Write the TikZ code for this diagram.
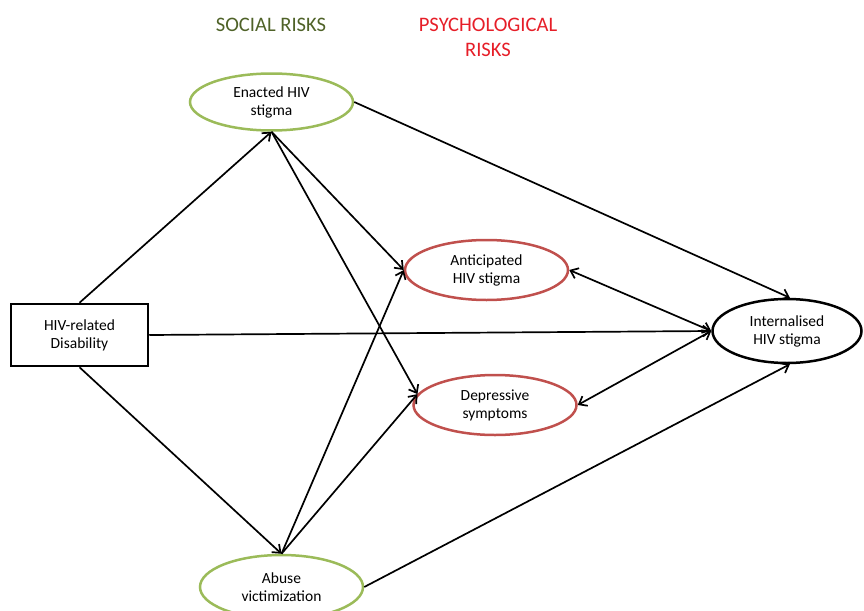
\documentclass[tikz,border=0pt]{standalone}
\usepackage{fontspec}
\setmainfont{Carlito}
\usetikzlibrary{shapes.geometric,arrows.meta}
\definecolor{socgreen}{RGB}{155,187,89}
\definecolor{psyred}{RGB}{192,80,77}
\definecolor{soctitle}{RGB}{79,98,40}
\definecolor{psytitle}{RGB}{230,30,40}
\begin{document}
\begin{tikzpicture}[x=1pt,y=-1pt,
   var/.style={ellipse,draw,line width=2.5pt,minimum width=163pt,minimum height=60pt,
      inner sep=0pt,align=center,font=\fontsize{15.5}{18}\selectfont},
   social/.style={var,draw=socgreen},
   psych/.style={var,draw=psyred},
   path/.style={line width=1.7pt,-{Straight Barb[length=7pt,width=11pt]}},
   both/.style={line width=1.7pt,{Straight Barb[length=7pt,width=11pt]}-{Straight Barb[length=7pt,width=11pt]}},
   title/.style={align=center,font=\fontsize{20.6}{25}\selectfont}]
   \useasboundingbox (0,0) rectangle (864,610);

   % group titles
   \node[title,text=soctitle] (soctitle) at (271,25) {SOCIAL RISKS};
   \node[title,text=psytitle] (psytitle) at (488,37) {PSYCHOLOGICAL\\RISKS};

   % variables
   \node[draw,line width=2.5pt,minimum width=137pt,minimum height=62pt,align=center,
      font=\fontsize{15.5}{18}\selectfont] (disab) at (79.5,335) {HIV-related\\Disability};
   \node[social,minimum height=57pt] (enacted) at (271.5,102) {Enacted HIV\\stigma};
   \node[social,minimum height=64pt] (abuse) at (281.5,587) {Abuse\\victimization};
   \node[psych] (anticip) at (486.5,270) {Anticipated\\HIV stigma};
   \node[psych] (depress) at (495,405) {Depressive\\symptoms};
   \node[var,draw=black,minimum width=149pt,minimum height=64pt] (intern) at (787,331) {Internalised\\HIV stigma};

   % paths
   \draw[path] (disab.north) -- (enacted.south);
   \draw[path] (disab.south) -- (abuse.north);
   \draw[path] (disab.east) -- (intern.west);
   \draw[path] (enacted.east) -- (intern.85);
   \draw[path] (enacted.south) -- (anticip.west);
   \draw[path] (enacted.south) -- (depress.172);
   \draw[path] (abuse.north) -- (anticip.west);
   \draw[path] (abuse.north) -- (depress.172);
   \draw[path] (abuse.east) -- (intern.-85);
   \draw[both] (anticip.east) -- (intern.west);
   \draw[both] (depress.east) -- (intern.west);
\end{tikzpicture}
\end{document}
